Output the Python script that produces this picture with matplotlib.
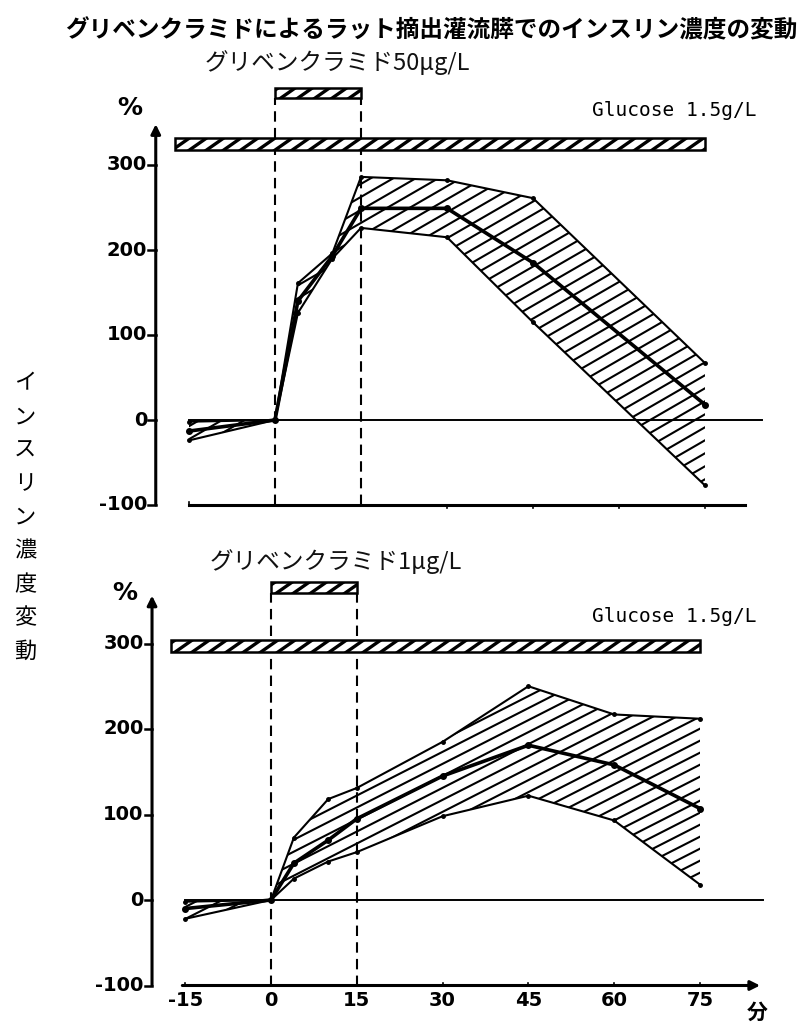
import matplotlib
matplotlib.use('Agg')
import matplotlib.pyplot as plt
import numpy as np
from matplotlib.collections import LineCollection
from matplotlib.patches import Rectangle
from matplotlib.transforms import IdentityTransform

# ---------------- data ----------------
times_top = [-15, 0, 4, 10, 15, 30, 45, 75]
mean_top = [-13, 0, 140, 193, 249, 249, 185, 18]
upper_top = [-2, 0, 161, 196, 286, 282, 261, 67]
lower_top = [-24, 0, 126, 190, 226, 215, 115, -77]

times_bot = [-15, 0, 4, 10, 15, 30, 45, 60, 75]
mean_bot = [-10, 0, 43, 70, 95, 145, 181, 158, 107]
upper_bot = [-2, 0, 73, 118, 131, 185, 250, 217, 212]
lower_bot = [-22, 0, 25, 45, 56, 98, 122, 93, 18]

x_ticks = [-15, 0, 15, 30, 45, 60, 75]
y_ticks = [300, 200, 100, 0, -100]
drug_window = (0, 15)
glucose_start = -17.5
glucose_end = 75

title = "グリベンクラミドによるラット摘出灌流膵でのインスリン濃度の変動"
subtitle_top = "グリベンクラミド50μg/L"
subtitle_bot = "グリベンクラミド1μg/L"
glucose_label = "Glucose 1.5g/L"
ylabel = "インスリン濃度変動"
unit_x = "分"

# ---------------- layout ----------------
W, H, DPI = 805, 1023, 100
fig = plt.figure(figsize=(W / DPI, H / DPI), dpi=DPI)
fig.patch.set_facecolor('white')

CJK = ['Noto Sans CJK JP', 'DejaVu Sans']
TICKFONT = dict(family='DejaVu Sans', weight='bold', size=14)


def px_axes(x0, xs, y0, ys, xlim=(-30, 90), ylim=(-110, 400)):
    left = x0 + xlim[0] * xs
    right = x0 + xlim[1] * xs
    top = y0 - ylim[1] * ys
    bottom = y0 - ylim[0] * ys
    ax = fig.add_axes([left / W, 1 - bottom / H, (right - left) / W, (bottom - top) / H])
    ax.set_xlim(*xlim)
    ax.set_ylim(*ylim)
    ax.axis('off')
    return ax


def ftext(xp, yp, s, **kw):
    return fig.text(xp / W, 1 - yp / H, s, **kw)


def hatch_clip(ax, path, trans, angle_deg, spacing_px, lw, z):
    bb = fig.bbox
    t = np.tan(np.radians(angle_deg))
    x0, x1 = bb.x0 - 20, bb.x1 + 20
    span = (x1 - x0) * t
    cs = np.arange(bb.y0 - span - 50, bb.y1 + 50, spacing_px)
    segs = [[(x0, c), (x1, c + span)] for c in cs]
    lc = LineCollection(segs, colors='black', linewidths=lw, transform=IdentityTransform(),
                        zorder=z)
    ax.add_collection(lc)
    lc.set_clip_box(None)
    lc.set_clip_path(path, trans)


def band(ax, t, lo, hi, mid, angle, spacing):
    poly = ax.fill_between(t, lo, hi, facecolor='white', edgecolor='none', zorder=1)
    hatch_clip(ax, poly.get_paths()[0], ax.transData, angle, spacing, 1.5, 2)
    ax.plot(t, hi, color='black', lw=1.5, marker='o', ms=2.5, zorder=3)
    ax.plot(t, lo, color='black', lw=1.5, marker='o', ms=2.5, zorder=3)
    ax.plot(t, mid, color='black', lw=2.6, marker='o', ms=4, zorder=4)


def bar(ax, x0, x1, y0, y1):
    r = Rectangle((x0, y0), x1 - x0, y1 - y0, facecolor='white', edgecolor='black',
                  lw=1.8, zorder=5, clip_on=False)
    ax.add_patch(r)
    hatch_clip(ax, r.get_path(), r.get_transform(), 35, 12, 2.4, 6)
    return r


def yaxis(ax, xa, ytop):
    ax.annotate('', xy=(xa, ytop), xytext=(xa, -100),
                arrowprops=dict(arrowstyle='-|>', lw=2.2, color='black', mutation_scale=14,
                                shrinkA=0, shrinkB=0), annotation_clip=False)
    for v in y_ticks:
        ax.plot([xa - 1.3, xa], [v, v], color='black', lw=1.8, clip_on=False)
        ax.text(xa - 1.5, v, str(v), ha='right', va='center', clip_on=False, **TICKFONT)


# ---------------- top panel ----------------
ax1 = px_axes(275, 5.733, 420, 0.85)
band(ax1, times_top, lower_top, upper_top, mean_top, 30, 13)
yaxis(ax1, -20.8, 348)
ax1.plot([-15, 85], [0, 0], color='black', lw=1.4, zorder=2)
ax1.plot([-15, 82], [-100, -100], color='black', lw=2.2, clip_on=False)
for xt in x_ticks:
    ax1.plot([xt, xt], [-100, -96 if xt <= 15 else -103], color='black', lw=1.2)
for xd in drug_window:
    ax1.plot([xd, xd], [-100, 379], color='black', lw=1.5, ls=(0, (5, 3)), clip_on=False, zorder=2)
bar(ax1, drug_window[0], drug_window[1], 379, 391)
bar(ax1, glucose_start, glucose_end, 318, 332)

# ---------------- bottom panel ----------------
ax2 = px_axes(271, 5.72, 900, 0.855)
band(ax2, times_bot, lower_bot, upper_bot, mean_bot, 27, 12)
yaxis(ax2, -20.8, 356)
ax2.plot([-15, 86], [0, 0], color='black', lw=1.4, zorder=2)
ax2.annotate('', xy=(85.5, -100), xytext=(-15.5, -100),
             arrowprops=dict(arrowstyle='-|>', lw=2.2, color='black', mutation_scale=14,
                             shrinkA=0, shrinkB=0), annotation_clip=False)
for xt in x_ticks:
    ax2.plot([xt, xt], [-100, -97], color='black', lw=1.2)
    ax2.text(xt, -118, str(xt), ha='center', va='center', clip_on=False, **TICKFONT)
for xd in drug_window:
    ax2.plot([xd, xd], [-100, 359], color='black', lw=1.5, ls=(0, (5, 3)), clip_on=False, zorder=2)
bar(ax2, drug_window[0], drug_window[1], 359, 372)
bar(ax2, glucose_start, glucose_end, 290, 304)

# ---------------- texts ----------------
ftext(431, 30, title, ha='center', va='center', family=CJK, weight='bold', size=17)
ftext(205, 63, subtitle_top, ha='left', va='center', family=CJK, size=17, color='#111111')
ftext(210, 562, subtitle_bot, ha='left', va='center', family=CJK, size=17, color='#111111')
ftext(756, 110, glucose_label, ha='right', va='center', family='DejaVu Sans Mono', size=14)
ftext(756, 617, glucose_label, ha='right', va='center', family='DejaVu Sans Mono', size=14)
ftext(130, 108, '%', ha='center', va='center', family='DejaVu Sans', weight='bold', size=18)
ftext(125, 593, '%', ha='center', va='center', family='DejaVu Sans', weight='bold', size=18)
ftext(757, 1012, unit_x, ha='center', va='center', family=CJK, weight='bold', size=15)
for i, ch in enumerate(ylabel):
    ftext(25, 383 + i * 33.6, ch, ha='center', va='center', family=CJK, size=16)

fig.savefig('out.png', dpi=DPI, facecolor='white')
